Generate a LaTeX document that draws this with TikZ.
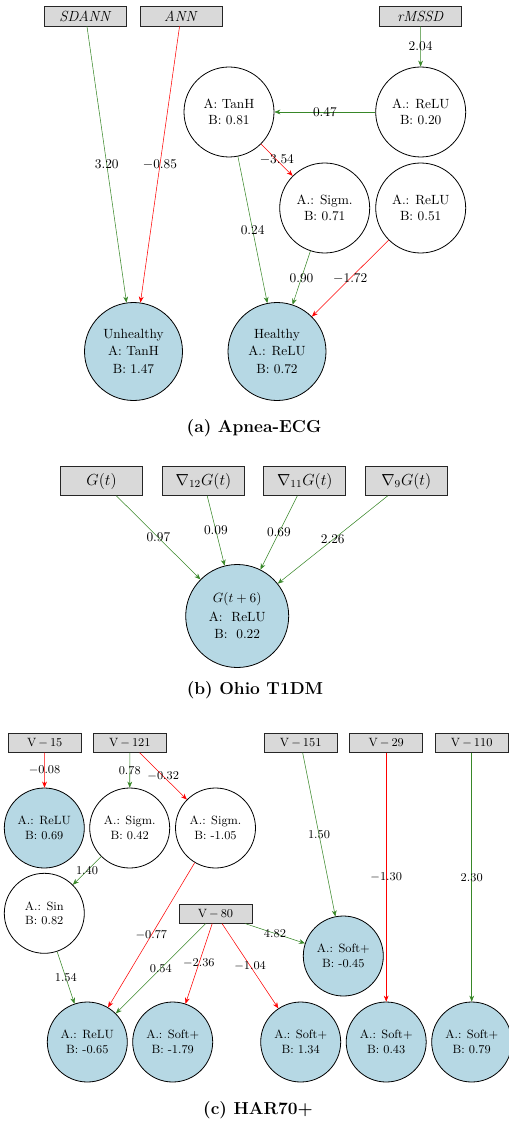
\documentclass[tikz,border=0pt]{standalone}
\usepackage{tikz}
\usetikzlibrary{arrows.meta}

\definecolor{weightgreen}{RGB}{56,135,40}
\definecolor{weightred}{RGB}{255,0,0}
\definecolor{outblue}{RGB}{182,216,228}
\definecolor{featgray}{RGB}{217,217,217}

\tikzset{
    feature/.style   = {rectangle, draw = black!85, fill = featgray, line width = .6pt, inner sep = 0pt},
    neuron/.style    = {circle, draw = black, line width = .6pt, align = center, inner sep = 0pt},
    outneuron/.style = {neuron, fill = outblue},
    poslink/.style   = {draw = weightgreen, -{Stealth[length = 4.5pt, width = 3.6pt]}},
    neglink/.style   = {draw = weightred, -{Stealth[length = 4.5pt, width = 3.6pt]}},
    subcaption/.style = {font = \fontsize{13}{15}\selectfont\bfseries}
}

\begin{document}
\begin{tikzpicture}[x = .75pt, y = -.75pt, font = \fontsize{10}{12}\selectfont]
    \useasboundingbox (0,0) rectangle (509,1123);

    % (a) Apnea-ECG:
    \begin{scope}[every node/.append style = {}]
        % Draw the input features:
        \node [feature, minimum width = 61.5pt, minimum height = 15pt, font = \fontsize{11}{13}\selectfont] (SDANN) at ( 85.5,16) {\textit{SDANN}};
        \node [feature, minimum width = 61.5pt, minimum height = 15pt, font = \fontsize{11}{13}\selectfont] (ANN)   at (181.0,16) {\textit{ANN}};
        \node [feature, minimum width = 61.5pt, minimum height = 15pt, font = \fontsize{11}{13}\selectfont] (rMSSD) at (420.5,16) {\textit{rMSSD}};

        % Draw the hidden neurons:
        \node [neuron, minimum size = 67.5pt] (TanH)  at (229.0,112) {A: TanH\\B: 0.81};
        \node [neuron, minimum size = 67.5pt] (ReLUa) at (420.7,112) {A.: ReLU\\B: 0.20};
        \node [neuron, minimum size = 67.5pt] (Sigm)  at (324.7,208) {A.: Sigm.\\B: 0.71};
        \node [neuron, minimum size = 67.5pt] (ReLUb) at (420.7,208) {A.: ReLU\\B: 0.51};

        % Draw the outputs:
        \node [outneuron, minimum size = 73.5pt] (Unhealthy) at (133.5,351.5) {Unhealthy\\[1pt]A: TanH\\[1pt]B: 1.47};
        \node [outneuron, minimum size = 73.5pt] (Healthy)   at (277.0,351.5) {Healthy\\[1pt]A.: ReLU\\[1pt]B: 0.72};

        % Draw the weights:
        \draw [poslink] (SDANN) -- node {3.20} (Unhealthy);
        \draw [neglink] (ANN)   -- node {$-0.85$} (Unhealthy);
        \draw [poslink] (rMSSD) -- node {2.04} (ReLUa);
        \draw [poslink] (ReLUa) -- node {0.47} (TanH);
        \draw [neglink] (TanH)  -- node {$-3.54$} (Sigm);
        \draw [poslink] (TanH)  -- node {0.24} (Healthy);
        \draw [poslink] (Sigm)  -- node {0.90} (Healthy);
        \draw [neglink] (ReLUb) -- node {$-1.72$} (Healthy);

        \node [subcaption] (CapA) at (254,428) {(a) Apnea-ECG};
    \end{scope}

    % (b) Ohio T1DM:
    \node [outneuron, minimum size = 77.25pt] (Gpred) at (237.2,616) {$G(t+6)$\\[2pt]A:~~ReLU\\[1pt]B:~~0.22};
    \foreach \name/\xpos/\txt/\wgt in {G/101.5/{$G(t)$}/0.97, Dtw/203.5/{$\nabla_{12}G(t)$}/0.09,
                                       Del/304.8/{$\nabla_{11}G(t)$}/0.69, Dni/406.3/{$\nabla_{9}G(t)$}/2.26}
    {
        \node [feature, minimum width = 61.5pt, minimum height = 21.5pt, font = \fontsize{12}{14}\selectfont] (\name) at (\xpos,481) {\txt};
        \draw [poslink] (\name) -- node {\wgt} (Gpred);
    }
    \node [subcaption] (CapB) at (255,690) {(b) Ohio T1DM};

    % (c) HAR70+:
    \begin{scope}[font = \fontsize{9}{11}\selectfont]
        % Draw the input features:
        \foreach \name/\xpos/\txt in {Va/44.7/15, Vb/129.8/121, Vc/300.7/151, Vd/386.2/29, Ve/471.7/110}
            \node [feature, minimum width = 54.75pt, minimum height = 14pt] (\name) at (\xpos,743) {V$\,-\,$\txt};
        \node [feature, minimum width = 54.75pt, minimum height = 14pt] (Vf) at (215.5,913.8) {V$\,-\,$80};

        % Draw the hidden neurons:
        \node [outneuron, minimum size = 60pt] (ReLUc) at ( 44.3,828) {A.: ReLU\\B: 0.69};
        \node [neuron,    minimum size = 60pt] (SigmA) at (129.7,828) {A.: Sigm.\\B: 0.42};
        \node [neuron,    minimum size = 60pt] (SigmB) at (215.5,828) {A.: Sigm.\\B: -1.05};
        \node [neuron,    minimum size = 60pt] (Sin)   at ( 44.3,913.3) {A.: Sin\\B: 0.82};
        \node [outneuron, minimum size = 60pt] (SoftA) at (343.3,956) {A.: Soft+\\B: -0.45};

        % Draw the outputs:
        \node [outneuron, minimum size = 60pt] (ReLUd) at ( 87.3,1042) {A.: ReLU\\B: -0.65};
        \node [outneuron, minimum size = 60pt] (SoftB) at (172.7,1042) {A.: Soft+\\B: -1.79};
        \node [outneuron, minimum size = 60pt] (SoftC) at (300.7,1042) {A.: Soft+\\B: 1.34};
        \node [outneuron, minimum size = 60pt] (SoftD) at (386.2,1042) {A.: Soft+\\B: 0.43};
        \node [outneuron, minimum size = 60pt] (SoftE) at (471.7,1042) {A.: Soft+\\B: 0.79};

        % Draw the weights:
        \draw [neglink] (Va)    -- node {$-0.08$} (ReLUc);
        \draw [poslink] (Vb)    -- node {0.78} (SigmA);
        \draw [neglink] (Vb)    -- node {$-0.32$} (SigmB);
        \draw [poslink] (SigmA) -- node {1.40} (Sin);
        \draw [neglink] (SigmB) -- node {$-0.77$} (ReLUd);
        \draw [poslink] (Sin)   -- node {1.54} (ReLUd);
        \draw [poslink] (Vf)    -- node {0.54} (ReLUd);
        \draw [neglink] (Vf)    -- node {$-2.36$} (SoftB);
        \draw [neglink] (Vf)    -- node {$-1.04$} (SoftC);
        \draw [poslink] (Vf)    -- node {4.82} (SoftA);
        \draw [poslink] (Vc)    -- node {1.50} (SoftA);
        \draw [neglink] (Vd)    -- node {$-1.30$} (SoftD);
        \draw [poslink] (Ve)    -- node {2.30} (SoftE);
    \end{scope}
    \node [subcaption] (CapC) at (258,1110) {(c) HAR70+};
\end{tikzpicture}
\end{document}
